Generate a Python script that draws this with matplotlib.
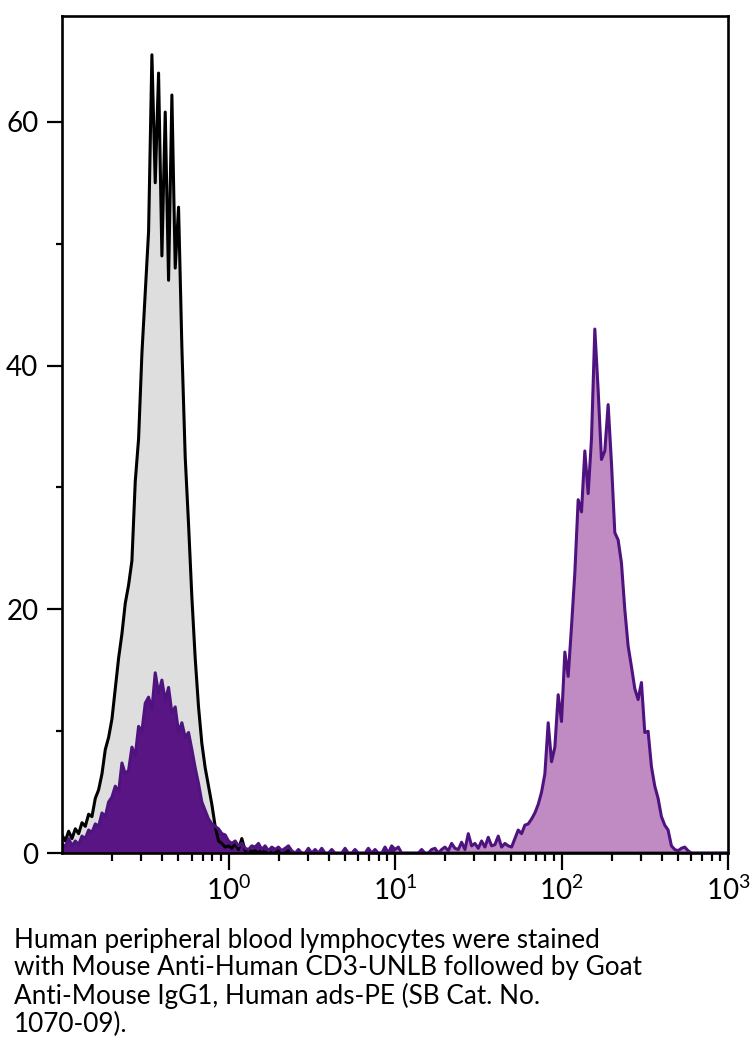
import numpy as np
import matplotlib
matplotlib.use("Agg")
import matplotlib.pyplot as plt
from matplotlib.ticker import FixedLocator, LogFormatterSciNotation, NullFormatter

plt.rcParams['font.family'] = ['Lato', 'DejaVu Sans']
plt.rcParams['mathtext.default'] = 'regular'

# channel scale: 50 channels per decade, 0.1 .. 1000
channels = np.logspace(-1, 3, 201)

# isotype / unstained control (black outline, grey fill)
control = [
    1.5, 1.0, 1.8, 1.2, 2.0, 1.6, 2.5, 2.2, 3.2, 3.0,
    4.5, 5.2, 6.5, 8.5, 9.5, 11.0, 13.5, 16.0, 18.0, 20.5,
    22.0, 24.0, 30.5, 34.0, 41.0, 46.0, 51.0, 65.5, 55.0, 64.0,
    49.0, 60.8, 47.0, 62.2, 48.0, 53.0, 41.5, 32.5, 27.0, 21.0,
    16.0, 12.0, 9.0, 7.0, 5.5, 4.0, 2.2, 1.0, 0.8, 0.5,
    0.6, 0.4, 0.8, 0.3, 1.2, 0.2, 0.3, 0.1, 0.2, 0.0,
    0.3, 0.0, 0.2, 0.0, 0.0, 0.3, 0.0, 0.0, 0.2, 0.0,
] + [0.0] * 131

# CD3 stained sample (purple)
stained = [
    0.8, 0.5, 1.2, 0.6, 1.0, 0.7, 1.4, 1.2, 1.9, 1.7,
    2.4, 2.2, 3.3, 3.0, 4.2, 4.6, 5.5, 5.0, 7.4, 6.5,
    6.8, 8.7, 8.0, 10.4, 10.0, 12.3, 12.8, 11.8, 14.8, 13.1,
    14.2, 12.5, 13.6, 11.5, 12.0, 9.9, 10.7, 9.5, 9.9, 8.5,
    7.0, 5.7, 4.2, 3.5, 2.8, 2.4, 2.2, 2.0, 1.6, 1.5,
    1.0, 0.8, 1.0, 0.6, 0.8, 0.4, 0.3, 0.6, 0.5, 0.8,
    0.3, 0.6, 0.2, 0.5, 0.3, 0.5, 0.2, 0.4, 0.6, 0.2,
    0.0, 0.3, 0.0, 0.0, 0.4, 0.0, 0.3, 0.0, 0.4, 0.0,
    0.0, 0.3, 0.0, 0.0, 0.0, 0.4, 0.0, 0.0, 0.3, 0.0,
    0.0, 0.0, 0.4, 0.0, 0.3, 0.0, 0.0, 0.5, 0.0, 0.6,
    0.3, 0.5, 0.0, 0.0, 0.0, 0.0, 0.0, 0.0, 0.3, 0.0,
    0.0, 0.3, 0.4, 0.0, 0.3, 0.5, 0.2, 0.8, 0.4, 0.3,
    0.9, 0.3, 1.6, 0.6, 0.8, 0.4, 1.0, 0.5, 1.3, 0.6,
    0.7, 1.4, 0.5, 0.8, 0.6, 0.5, 1.2, 1.9, 1.6, 2.3,
    2.4, 2.8, 3.3, 4.0, 5.0, 6.5, 10.7, 7.5, 8.7, 13.0,
    10.8, 16.5, 14.5, 18.6, 23.0, 29.0, 28.0, 33.0, 29.5, 34.0,
    43.0, 38.0, 32.3, 33.0, 36.8, 32.0, 26.3, 25.7, 23.8, 20.0,
    17.0, 15.3, 13.5, 12.6, 14.0, 9.9, 10.0, 7.1, 5.5, 4.5,
    3.0, 2.3, 1.9, 0.6, 0.3, 0.2, 0.4, 0.5, 0.2, 0.0,
    0.0, 0.0, 0.0, 0.0, 0.0, 0.0, 0.0, 0.0, 0.0, 0.0,
    0.0,
]

caption = ("Human peripheral blood lymphocytes were stained\n"
           "with Mouse Anti-Human CD3-UNLB followed by Goat\n"
           "Anti-Mouse IgG1, Human ads-PE (SB Cat. No.\n"
           "1070-09).")

fig = plt.figure(figsize=(7.56, 10.52), dpi=100)
ax = fig.add_axes([0.082, 0.189, 0.881, 0.796])

x = channels
ctl = np.array(control)
stn = np.array(stained)

ax.fill_between(x, ctl, 0, color='#dedede', lw=0)
ax.plot(x, ctl, color='black', lw=2.2)

ax.fill_between(x, stn, 0, where=x <= 10.01, color='#5a1584', lw=0)
ax.fill_between(x, stn, 0, where=x >= 9.99, color='#c08bc2', lw=0)
ax.plot(x, stn, color='#4f1380', lw=2.2)

ax.set_xscale('log')
ax.set_xlim(0.1, 1000)
ax.set_ylim(0, 68.7)

ax.xaxis.set_major_locator(FixedLocator([1, 10, 100, 1000]))
ax.xaxis.set_major_formatter(LogFormatterSciNotation())
ax.xaxis.set_minor_locator(FixedLocator(
    [m * d for d in (0.1, 1, 10, 100) for m in range(2, 10)]))
ax.xaxis.set_minor_formatter(NullFormatter())

ax.yaxis.set_major_locator(FixedLocator([0, 20, 40, 60]))
ax.yaxis.set_minor_locator(FixedLocator([10, 30, 50]))

ax.tick_params(axis='x', which='major', direction='out', length=12.5, width=1.6,
               labelsize=20, pad=4)
ax.tick_params(axis='x', which='minor', direction='out', length=6, width=1.6)
ax.tick_params(axis='y', which='major', direction='out', length=11, width=1.6,
               labelsize=20, pad=6)
ax.tick_params(axis='y', which='minor', direction='out', length=4.5, width=1.6)

for s in ax.spines.values():
    s.set_linewidth(1.9)
    s.set_zorder(5)

fig.text(0.018, 0.118, caption, fontsize=18.8, va='top', ha='left',
         linespacing=1.13)

fig.savefig('out.png', dpi=100)
